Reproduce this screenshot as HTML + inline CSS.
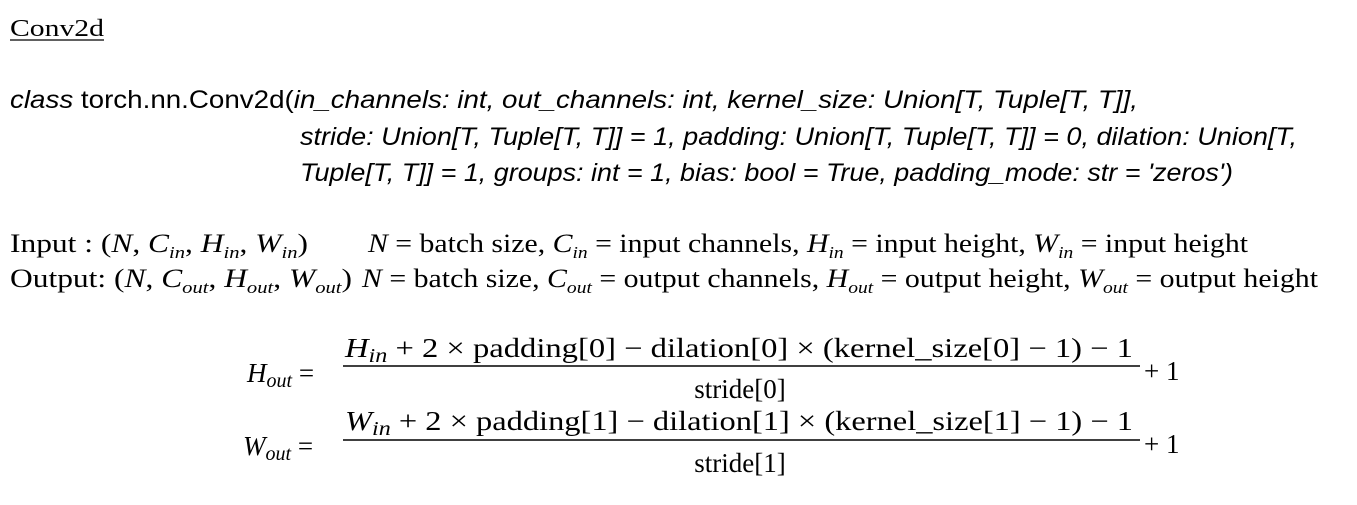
<!DOCTYPE html>
<html><head><meta charset="utf-8"><style>
html,body{margin:0;padding:0;background:#fff;}
svg{display:block;}
.t{font-family:"Liberation Serif",serif;fill:#000;}
.s{font-family:"Liberation Sans",sans-serif;fill:#000;}
</style></head><body>
<svg width="1357" height="505" xmlns="http://www.w3.org/2000/svg">
<text class="t" x="10" y="36" font-size="24" textLength="94" lengthAdjust="spacingAndGlyphs">Conv2d</text>
<line x1="10" y1="40" x2="104" y2="40" stroke="#000" stroke-width="1.3"/>

<text class="s" x="10" y="108" font-size="25" textLength="1128" lengthAdjust="spacingAndGlyphs"><tspan font-style="italic">class</tspan> torch.nn.Conv2d(<tspan font-style="italic">in_channels: int, out_channels: int, kernel_size: Union[T, Tuple[T, T]],</tspan></text>
<text class="s" x="300" y="145" font-size="25" font-style="italic" textLength="997" lengthAdjust="spacingAndGlyphs">stride: Union[T, Tuple[T, T]] = 1, padding: Union[T, Tuple[T, T]] = 0, dilation: Union[T,</text>
<text class="s" x="300" y="181" font-size="25" font-style="italic" textLength="933" lengthAdjust="spacingAndGlyphs">Tuple[T, T]] = 1, groups: int = 1, bias: bool = True, padding_mode: str = 'zeros')</text>

<text class="t" x="10" y="252" font-size="26" textLength="298" lengthAdjust="spacingAndGlyphs">Input   : (<tspan font-style="italic">N</tspan>, <tspan font-style="italic">C</tspan><tspan font-style="italic" font-size="17" dy="6">in</tspan><tspan dy="-6">, </tspan><tspan font-style="italic">H</tspan><tspan font-style="italic" font-size="17" dy="6">in</tspan><tspan dy="-6">, </tspan><tspan font-style="italic">W</tspan><tspan font-style="italic" font-size="17" dy="6">in</tspan><tspan dy="-6">)</tspan></text>
<text class="t" x="368" y="252" font-size="26" textLength="880" lengthAdjust="spacingAndGlyphs"><tspan font-style="italic">N</tspan> = batch size, <tspan font-style="italic">C</tspan><tspan font-style="italic" font-size="17" dy="6">in</tspan><tspan dy="-6"> = input channels, </tspan><tspan font-style="italic">H</tspan><tspan font-style="italic" font-size="17" dy="6">in</tspan><tspan dy="-6"> = input height, </tspan><tspan font-style="italic">W</tspan><tspan font-style="italic" font-size="17" dy="6">in</tspan><tspan dy="-6"> = input height</tspan></text>

<text class="t" x="10" y="287" font-size="26" textLength="342" lengthAdjust="spacingAndGlyphs">Output: (<tspan font-style="italic">N</tspan>, <tspan font-style="italic">C</tspan><tspan font-style="italic" font-size="17" dy="6">out</tspan><tspan dy="-6">, </tspan><tspan font-style="italic">H</tspan><tspan font-style="italic" font-size="17" dy="6">out</tspan><tspan dy="-6">, </tspan><tspan font-style="italic">W</tspan><tspan font-style="italic" font-size="17" dy="6">out</tspan><tspan dy="-6">)</tspan></text>
<text class="t" x="362" y="287" font-size="26" textLength="956" lengthAdjust="spacingAndGlyphs"><tspan font-style="italic">N</tspan> = batch size, <tspan font-style="italic">C</tspan><tspan font-style="italic" font-size="17" dy="6">out</tspan><tspan dy="-6"> = output channels, </tspan><tspan font-style="italic">H</tspan><tspan font-style="italic" font-size="17" dy="6">out</tspan><tspan dy="-6"> = output height, </tspan><tspan font-style="italic">W</tspan><tspan font-style="italic" font-size="17" dy="6">out</tspan><tspan dy="-6"> = output height</tspan></text>

<!-- H_out -->
<text class="t" x="247" y="382" font-size="27"><tspan font-style="italic">H</tspan><tspan font-style="italic" font-size="20" dy="5">out</tspan><tspan dy="-5"> =</tspan></text>
<text class="t" x="345" y="357" font-size="27" textLength="788" lengthAdjust="spacingAndGlyphs"><tspan font-style="italic">H</tspan><tspan font-style="italic" font-size="20" dy="5">in</tspan><tspan dy="-5"> + 2 × padding[0] − dilation[0] × (kernel_size[0] − 1) − 1</tspan></text>
<line x1="343" y1="366" x2="1140" y2="366" stroke="#000" stroke-width="1.6"/>
<text class="t" x="1144" y="380" font-size="27">+ 1</text>
<text class="t" x="740" y="398" font-size="27" text-anchor="middle">stride[0]</text>

<!-- W_out -->
<text class="t" x="243" y="455" font-size="27"><tspan font-style="italic">W</tspan><tspan font-style="italic" font-size="20" dy="5">out</tspan><tspan dy="-5"> =</tspan></text>
<text class="t" x="345" y="430" font-size="27" textLength="788" lengthAdjust="spacingAndGlyphs"><tspan font-style="italic">W</tspan><tspan font-style="italic" font-size="20" dy="5">in</tspan><tspan dy="-5"> + 2 × padding[1] − dilation[1] × (kernel_size[1] − 1) − 1</tspan></text>
<line x1="343" y1="440" x2="1140" y2="440" stroke="#000" stroke-width="1.6"/>
<text class="t" x="1144" y="453" font-size="27">+ 1</text>
<text class="t" x="740" y="472" font-size="27" text-anchor="middle">stride[1]</text>
</svg>
</body></html>
